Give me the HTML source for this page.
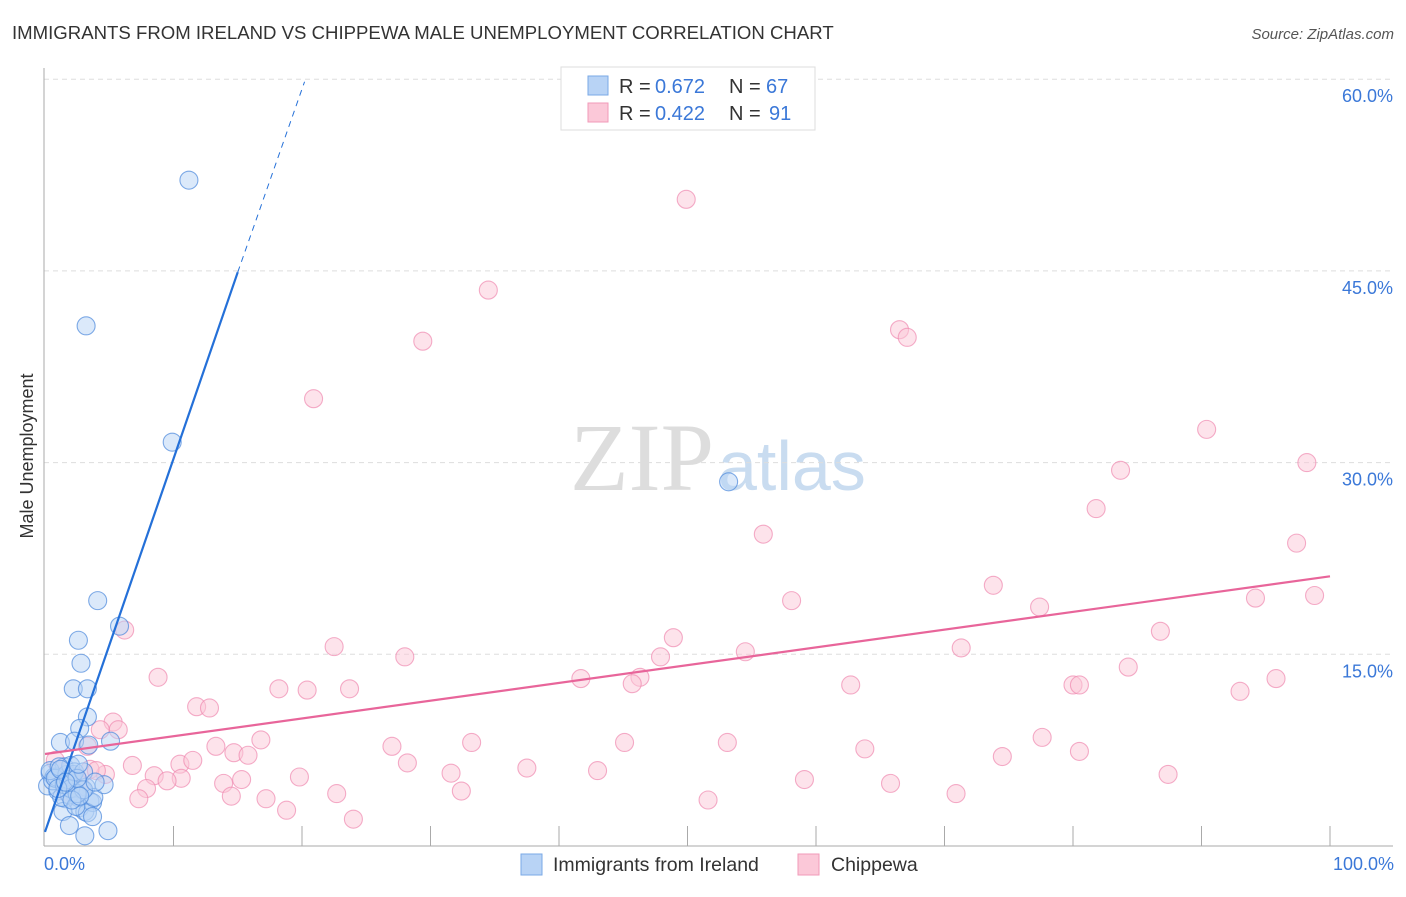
<!DOCTYPE html>
<html><head><meta charset="utf-8"><style>
body{margin:0;background:#fff;font-family:"Liberation Sans",sans-serif}
</style></head><body>
<svg id="c" width="1406" height="892" xmlns="http://www.w3.org/2000/svg">
<text x="12" y="39" font-size="18.6" fill="#333">IMMIGRANTS FROM IRELAND VS CHIPPEWA MALE UNEMPLOYMENT CORRELATION CHART</text>
<text x="1394" y="39" font-size="15" fill="#555" font-style="italic" text-anchor="end">Source: ZipAtlas.com</text>
<text x="714" y="490" font-size="96" fill="#ddd" font-family="Liberation Serif,serif" text-anchor="end">ZIP</text>
<text x="718" y="490" font-size="70" fill="#c9dcf0" text-anchor="start">atlas</text>
<g id="grid"></g>
<line x1="44" y1="68" x2="44" y2="846" stroke="#aaa"/>
<line x1="44" y1="846" x2="1393" y2="846" stroke="#aaa"/>
<text transform="translate(33,456) rotate(-90)" font-size="18" fill="#333" text-anchor="middle">Male Unemployment</text>
<text x="44" y="870" font-size="18" fill="#3b78d8">0.0%</text>
<text x="1394" y="870" font-size="18" fill="#3b78d8" text-anchor="end">100.0%</text>
<g id="pts"></g>
<g>
<rect x="561" y="67" width="254" height="63" fill="#fff" stroke="#ddd"/>
<rect x="588" y="76" width="20" height="19" fill="#b8d3f5" stroke="#7aa8e6"/>
<rect x="588" y="103" width="20" height="19" fill="#fbc8d8" stroke="#f19ab8"/>
<text x="619" y="93" font-size="20" fill="#333">R = </text><text x="655" y="93" font-size="20" fill="#3b78d8">0.672</text>
<text x="729" y="93" font-size="20" fill="#333">N = </text><text x="766" y="93" font-size="20" fill="#3b78d8">67</text>
<text x="619" y="120" font-size="20" fill="#333">R = </text><text x="655" y="120" font-size="20" fill="#3b78d8">0.422</text>
<text x="729" y="120" font-size="20" fill="#333">N = </text><text x="769" y="120" font-size="20" fill="#3b78d8">91</text>
</g>
<g>
<rect x="521" y="854" width="21" height="21" fill="#b8d3f5" stroke="#7aa8e6"/>
<text x="553" y="871" font-size="19.5" fill="#333">Immigrants from Ireland</text>
<rect x="798" y="854" width="21" height="21" fill="#fbc8d8" stroke="#f19ab8"/>
<text x="831" y="871" font-size="19.5" fill="#333">Chippewa</text>
</g>
</svg>
<script>
const yTicks=[15,30,45,60];
const xTicks=[10,20,30,40,50,60,70,80,90,100];
const blueX=[11.2,3.2,9.9,53.2,4.1,5.8,2.6,2.8,2.2,3.3,3.3,2.7,1.2,2.3,5.1,3.4,0.4,0.7,1.5,0.2,1.0,1.8,2.3,1.6,2.7,3.5,3.1,1.4,0.6,0.9,2.1,2.6,1.9,1.3,2.9,3.7,3.3,2.4,0.4,0.8,1.7,2.0,1.1,2.2,1.5,3.2,3.8,2.5,1.8,4.9,3.7,1.9,3.1,4.6,2.0,2.3,1.2,2.5,3.0,2.1,1.0,3.0,2.5,1.6,2.7,3.9,2.6];
const blueY=[52.1,40.7,31.6,28.5,19.2,17.2,16.1,14.3,12.3,12.3,10.1,9.2,8.1,8.2,8.2,7.9,5.7,5.4,6.2,4.7,4.3,5.0,4.1,3.7,3.0,3.5,2.7,2.7,5.1,5.4,5.4,3.8,4.0,3.8,4.4,3.4,2.6,3.1,5.9,5.3,5.6,6.3,6.2,5.6,4.8,4.6,3.8,4.1,5.2,1.2,2.3,1.6,0.8,4.8,4.5,5.8,6.0,4.1,4.4,3.6,4.5,5.8,5.3,5.0,3.9,5.0,6.4];
const pinkX=[49.9,34.5,29.4,66.5,67.1,20.9,90.4,83.7,98.2,81.8,55.9,97.4,73.8,94.2,98.8,58.1,77.4,86.8,6.2,48.9,22.5,71.3,47.9,28.0,54.5,84.3,8.8,41.7,46.3,45.7,62.7,80.0,80.5,18.2,20.4,23.7,95.8,93.0,11.8,12.8,5.3,5.7,4.3,3.3,16.8,13.3,33.2,45.1,53.1,77.6,63.8,80.5,14.7,15.8,27.0,28.2,74.5,6.8,10.5,11.5,8.5,4.7,37.5,31.6,43.0,19.8,10.6,9.5,15.3,13.9,59.1,87.4,65.8,7.9,32.4,14.5,22.7,17.2,7.3,51.6,70.9,18.8,24.0,1.2,2.0,2.7,0.8,1.6,3.5,2.5,4.0];
const pinkY=[50.6,43.5,39.5,40.4,39.8,35.0,32.6,29.4,30.0,26.4,24.4,23.7,20.4,19.4,19.6,19.2,18.7,16.8,16.9,16.3,15.6,15.5,14.8,14.8,15.2,14.0,13.2,13.1,13.2,12.7,12.6,12.6,12.6,12.3,12.2,12.3,13.1,12.1,10.9,10.8,9.7,9.1,9.1,7.8,8.3,7.8,8.1,8.1,8.1,8.5,7.6,7.4,7.3,7.1,7.8,6.5,7.0,6.3,6.4,6.7,5.5,5.6,6.1,5.7,5.9,5.4,5.3,5.1,5.2,4.9,5.2,5.6,4.9,4.5,4.3,3.9,4.1,3.7,3.7,3.6,4.1,2.8,2.1,5.9,5.5,4.8,6.7,4.3,6.0,5.3,5.9];
const X=v=>45+v*12.85, Y=v=>846-v*12.78;
const NS="http://www.w3.org/2000/svg";
const grid=document.getElementById('grid'), pts=document.getElementById('pts');
function mk(t,a,p){const e=document.createElementNS(NS,t);for(const k in a)e.setAttribute(k,a[k]);p.appendChild(e);return e;}
yTicks.forEach(t=>{
  const l=mk('line',{x1:44,x2:1393,y1:Y(t),y2:Y(t),stroke:'#ddd','stroke-dasharray':'5,4'},grid);
  
  
  const tx=mk('text',{x:1393,y:Y(t)+23,'font-size':18,fill:'#3b78d8','text-anchor':'end'},grid);
  tx.textContent=t.toFixed(1)+'%';
  
  
});
xTicks.forEach(t=>{
  const l=mk('line',{x1:X(t),x2:X(t),y1:826,y2:846,stroke:'#aaa'},grid);
  
  
});
function series(xs,ys,fill,stroke,name){
  xs.forEach((x,i)=>{
    const c=mk('circle',{cx:X(x),cy:Y(ys[i]),r:9,fill:fill,'fill-opacity':0.5,stroke:stroke,'stroke-opacity':0.7,'stroke-width':1.1},pts);
    
    
  });
}
series(pinkX,pinkY,'#fbc8d8','#f08ab0','chippewa-point');
series(blueX,blueY,'#b8d3f5','#4a88dc','ireland-point');
const bl=mk('line',{x1:X(0),y1:Y(1.1),x2:X(15),y2:Y(44.9),stroke:'#2470d8','stroke-width':2.2},pts);


const bd=mk('line',{x1:X(15),y1:Y(44.9),x2:X(20.2),y2:Y(59.8),stroke:'#2470d8','stroke-width':1,'stroke-dasharray':'6,5'},pts);


const pl=mk('line',{x1:X(0),y1:Y(7.2),x2:X(100),y2:Y(21.1),stroke:'#e8659a','stroke-width':2.2},pts);


</script>
</body></html>
